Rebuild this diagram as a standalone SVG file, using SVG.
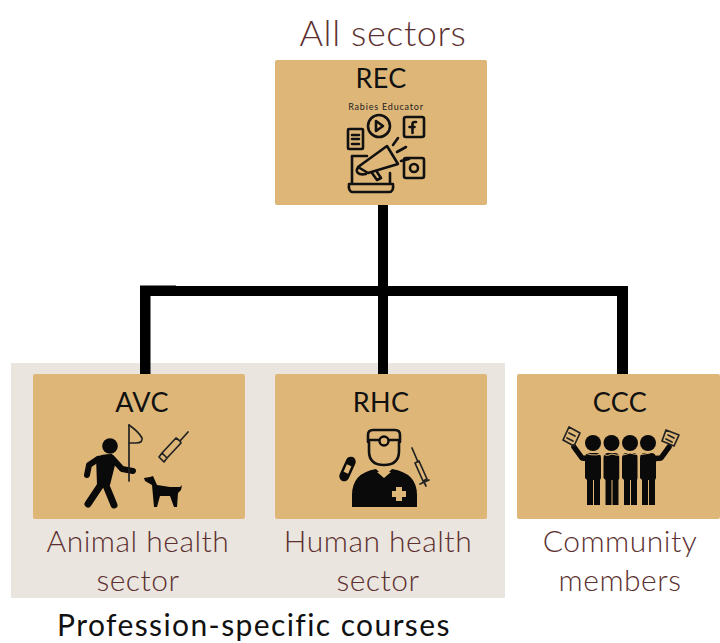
<svg xmlns="http://www.w3.org/2000/svg" width="720" height="643" viewBox="0 0 720 643">
<style>
.box{fill:#deb778}
.t{font-family:"Lato","Open Sans",sans-serif;text-anchor:middle}
.h{font-size:27px;fill:#111;font-family:"Lato","Open Sans",sans-serif;text-anchor:middle;letter-spacing:.3px}
.l{font-size:30px;fill:#5c3030;font-family:"Lato","Open Sans",sans-serif;font-weight:300;text-anchor:middle;letter-spacing:.5px}
.o{fill:none;stroke:#111;stroke-width:2.600;stroke-linecap:round;stroke-linejoin:round}
.th{fill:none;stroke:#222;stroke-width:1.700;stroke-linecap:round;stroke-linejoin:round}
.k{fill:none;stroke:#0a0a0a;stroke-linecap:round;stroke-linejoin:round}
</style>
<rect width="720" height="643" fill="#fff"/>
<rect id="profession-area" x="11" y="363" width="494" height="235" fill="#ebe5df"/>
<g id="connectors" fill="#000">
<rect x="378" y="205" width="10" height="169"/>
<rect x="140" y="286" width="488" height="10"/>
<rect x="140" y="285.500" width="36" height="2"/>
<rect x="140" y="286" width="10.500" height="88"/>
<rect x="617" y="288" width="11" height="86"/>
</g>
<text class="l" x="383" y="46" style="font-size:36px;letter-spacing:.6px">All sectors</text>
<g id="rec">
<rect class="box" x="275" y="60" width="212" height="145" rx="2"/>
<text class="h" x="381" y="88">REC</text>
<text class="t" x="386" y="110" style="font-size:9px;letter-spacing:.8px" fill="#222">Rabies Educator</text>
<rect class="o" x="348" y="129" width="15" height="20" rx="1"/>
<path class="o" stroke-width="1.800" d="M352 135h7M352 139h7M352 144h7"/>
<circle class="o" cx="379" cy="126" r="11"/>
<path class="o" stroke-width="1.800" d="M376 121l7 5-7 5z"/>
<rect class="o" x="404" y="117" width="20" height="20" rx="2"/>
<path class="o" d="M416 122h-1.500q-2 0-2 2v9M409.500 127h5"/>
<rect class="o" x="404" y="158" width="20" height="20" rx="2"/>
<circle class="o" cx="414" cy="168" r="4"/>
<path class="o" d="M367 156h-15v20M390 173v10M352 176v7M349 184h44q1 8-4 8h-36q-5 0-4-8z"/>
<path class="o" d="M358 167l29-21 11 18-30 9z"/>
<path class="o" d="M359 167q-4 3-1 6 2 2 8 1M372 173l5 7 4-2-4-6"/>
<path class="o" d="M393 145l5-7M397 152l9-5M401 161l8-2"/>
</g>
<g id="avc">
<rect class="box" x="33" y="374" width="212" height="145" rx="2"/>
<text class="h" x="142" y="412">AVC</text>
<circle cx="110" cy="446" r="7.800" fill="#0a0a0a"/>
<path fill="#0a0a0a" d="M96 457q6-3 16-3l4 7-6 24h-13z"/>
<path class="k" stroke-width="6" d="M98 459l-9 6-2 10M112 458l10 11 11 2"/>
<path class="k" stroke-width="7" d="M102 483l-14 21M105 483l9 22"/>
<path class="th" d="M129 425v56"/>
<path class="th" d="M129 425q10 7 13 13 1 5-6 5h-7"/>
<path class="th" d="M188 432l-8 9M180 441l-4-3-14 15 5 5 14-15zM162 453l-3 4 5 5 3-4"/>
<path fill="#0a0a0a" d="M144 478l6-1 3-1 4 9 13 2h10l2-2-1 5-3 3-1 14h-3l-4-11h-10l-3 11h-3l-2-22-7-4z"/>
</g>
<g id="rhc">
<rect class="box" x="275" y="374" width="212" height="145" rx="2"/>
<text class="h" x="381" y="412">RHC</text>
<path class="o" stroke-width="3.200" d="M368 442v-7q0-5 5-5h22q5 0 5 5v7M368 440h32M369 442v9q0 14 15 14t15-14v-9"/>
<circle cx="384" cy="441" r="4.500" fill="#deb778" stroke="#0a0a0a" stroke-width="2.400"/>
<path fill="#0a0a0a" d="M352 507v-12q0-22 24-26l8 8 8-8q25 4 25 26v12z"/>
<path fill="#deb778" d="M377 472h14l-7 6zM396 487h6v4h4v6h-4v4h-6v-4h-4v-6h4z"/>
<rect x="342.500" y="456" width="10" height="26" rx="5" transform="rotate(24 347.500 469)" fill="#0a0a0a"/>
<rect x="345" y="465" width="5" height="8" transform="rotate(24 347.500 469)" fill="#deb778"/>
<path class="th" d="M412 448l6 14M415 463l4-2 8 18-4 2zM420 484l9-4M424 482l2 4"/>
</g>
<g id="ccc">
<rect class="box" x="517" y="374" width="203" height="145" rx="2"/>
<text class="h" x="620" y="412">CCC</text>
<path class="k" stroke-width="5.500" d="M574 447l8 11 10 1M669 447l-8 11-10 1"/>
<g fill="#0a0a0a">
<circle cx="593" cy="443" r="8"/><circle cx="611.500" cy="443" r="8"/><circle cx="630" cy="443" r="8"/><circle cx="648" cy="443" r="8"/>
<path d="M585 458q0-5 5-5h6q5 0 5 5v20l-1 2v25h-6v-25h-1v25h-6v-25l-2-2z"/>
<path d="M603.500 458q0-5 5-5h6q5 0 5 5v20l-1 2v25h-6v-25h-1v25h-6v-25l-2-2z"/>
<path d="M622 458q0-5 5-5h6q5 0 5 5v20l-1 2v25h-6v-25h-1v25h-6v-25l-2-2z"/>
<path d="M640 458q0-5 5-5h6q5 0 5 5v20l-1 2v25h-6v-25h-1v25h-6v-25l-2-2z"/>
</g>
<path d="M582 451q8 6 20 3 6 3 10 0 8 3 18-1 8 3 20 0l7-4M602 454v30M620 454v30M638 454v30" fill="none" stroke="#deb778" stroke-width="1"/>
<path class="th" d="M569 427l11 6-6 13-11-6zM569 433l6 3M567 438l6 3"/>
<path class="th" d="M666 430l13 5-5 11-12-5zM668 435l6 3M666 439l6 3"/>
</g>
<text class="l" x="138" y="552">Animal health</text>
<text class="l" x="138" y="591">sector</text>
<text class="l" x="378" y="552">Human health</text>
<text class="l" x="378" y="591">sector</text>
<text class="l" x="620" y="552">Community</text>
<text class="l" x="620" y="591">members</text>
<text class="t" x="254" y="636" style="font-size:30px;letter-spacing:1.400px" fill="#111">Profession-specific courses</text>
</svg>
